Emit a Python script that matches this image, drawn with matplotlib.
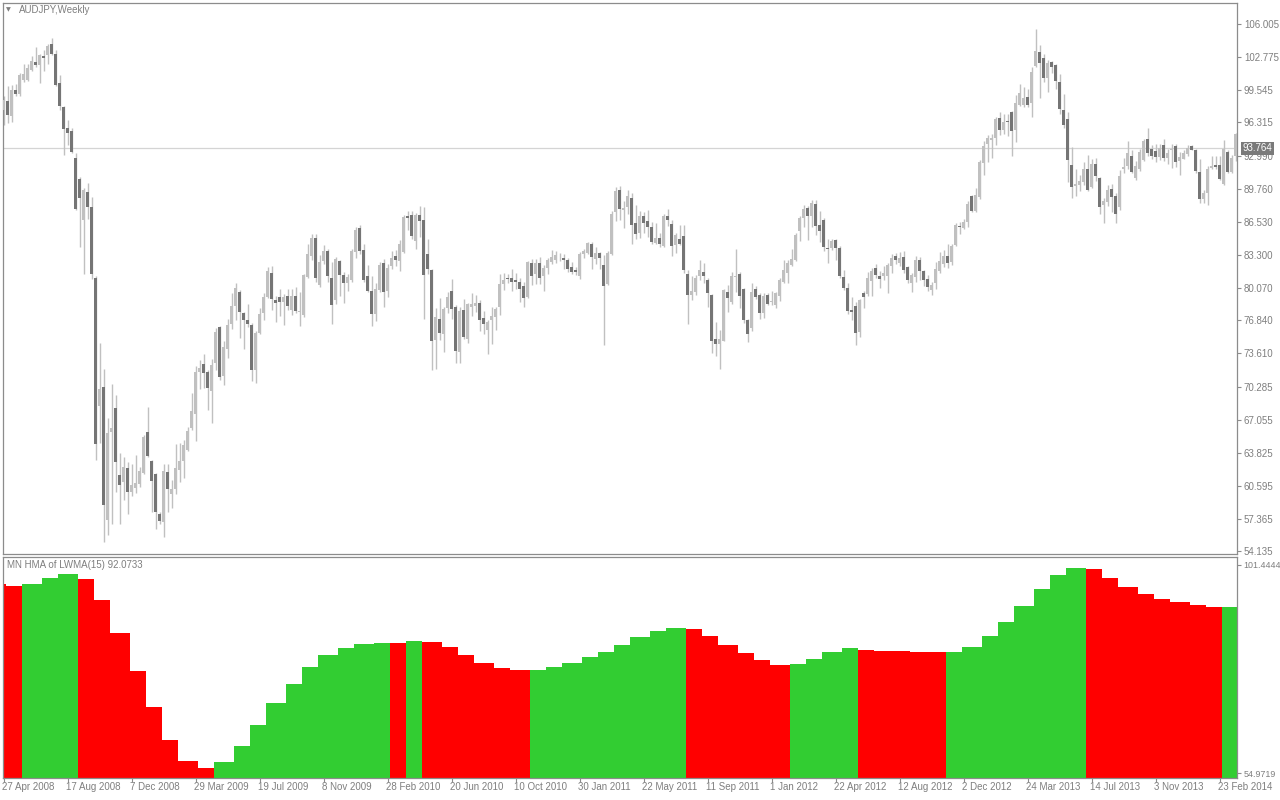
import matplotlib
matplotlib.use('Agg')
import matplotlib.pyplot as plt
import numpy as np
import pandas as pd

plt.rcParams['font.family'] = ['Liberation Sans', 'DejaVu Sans']

# ---------------- data ----------------
symbol_title = "AUDJPY,Weekly"
first_week = "2008-04-27"
bid_price = 93.764

opens = [97.55, 98.42, 96.96, 99.54, 99.12, 100.51, 100.51, 101.49, 102.25, 101.97,
         102.88, 102.95, 104.06, 103.05, 100.16, 97.83, 95.74, 95.46, 92.78, 90.73,
         86.69, 89.48, 87.98, 81.02, 68.42, 70.30, 57.25, 65.88, 68.22, 61.64,
         60.94, 62.33, 59.97, 60.32, 60.73, 61.88, 65.88, 63.03, 61.78, 57.81,
         57.01, 61.95, 59.76, 60.25, 62.13, 63.03, 64.07, 66.23, 67.62, 71.80,
         72.57, 71.80, 69.89, 72.67, 76.15, 71.35, 74.06, 76.50, 78.24, 79.63,
         77.54, 76.88, 76.43, 71.97, 75.63, 77.54, 79.18, 81.54, 78.86, 79.18,
         78.69, 79.28, 77.89, 79.28, 77.72, 77.37, 81.13, 83.21, 84.95, 80.33,
         82.66, 83.63, 81.02, 78.83, 82.66, 81.30, 80.50, 80.85, 83.56, 85.90,
         83.77, 81.20, 79.73, 77.44, 79.80, 82.48, 79.73, 82.17, 83.18, 82.69,
         83.56, 87.11, 87.25, 84.68, 87.25, 86.69, 83.35, 81.82, 74.93, 77.02,
         75.52, 78.06, 79.73, 78.17, 73.78, 77.89, 75.04, 78.20, 78.24, 78.58,
         77.09, 75.91, 76.92, 77.19, 78.13, 80.43, 81.02, 81.02, 80.85, 80.64,
         80.22, 79.11, 82.52, 81.37, 82.48, 81.20, 82.00, 82.59, 82.83, 83.04,
         83.00, 82.76, 82.07, 81.79, 81.20, 83.35, 83.46, 84.40, 82.87, 83.46,
         82.31, 80.43, 83.35, 87.46, 89.65, 87.74, 87.98, 88.85, 86.42, 85.44,
         87.11, 86.59, 86.00, 84.43, 84.95, 84.15, 87.11, 86.31, 84.22, 84.85,
         85.13, 81.44, 79.39, 79.63, 81.20, 81.61, 80.85, 79.39, 75.00, 74.48,
         74.86, 79.63, 78.69, 81.10, 81.44, 79.98, 76.92, 76.08, 79.98, 79.39,
         77.61, 79.39, 78.69, 78.34, 79.28, 80.60, 81.54, 82.31, 82.83, 85.65,
         86.94, 87.88, 87.11, 88.33, 86.21, 86.76, 83.98, 83.98, 84.75, 83.98,
         81.13, 80.08, 77.86, 78.24, 75.73, 79.56, 79.46, 80.74, 82.00, 81.20,
         81.20, 81.20, 82.17, 83.21, 82.52, 83.07, 82.07, 80.50, 81.13, 82.76,
         81.68, 80.92, 79.87, 80.50, 81.68, 82.42, 83.18, 82.59, 84.26, 86.14,
         85.90, 86.52, 89.03, 87.63, 88.96, 92.33, 94.14, 94.59, 94.77, 96.75,
         95.60, 96.44, 97.38, 95.53, 98.00, 98.00, 98.77, 98.25, 101.83, 103.22,
         102.63, 100.68, 102.25, 101.97, 100.27, 97.55, 96.65, 92.12, 90.07, 90.17,
         90.49, 91.74, 90.00, 92.23, 90.84, 88.23, 88.50, 89.79, 89.10, 87.98,
         91.74, 91.98, 93.03, 90.87, 91.70, 92.61, 94.66, 93.72, 93.48, 92.92,
         94.07, 92.86, 93.55, 94.00, 92.51, 92.75, 93.20, 94.00, 93.62, 91.39,
         88.78, 89.37, 91.81, 92.16, 92.09, 90.24, 93.38, 91.46, 93.03]

highs = [98.94, 99.92, 99.99, 100.06, 101.21, 102.08, 102.08, 102.84, 103.71, 103.05,
         103.47, 103.99, 104.58, 103.47, 100.96, 97.90, 96.58, 95.74, 93.31, 90.94,
         89.90, 90.35, 88.96, 81.20, 74.58, 72.05, 67.28, 70.58, 69.54, 63.80,
         63.45, 62.93, 62.75, 63.62, 62.40, 65.61, 68.32, 63.10, 61.88, 58.05,
         62.75, 62.75, 61.19, 64.66, 64.84, 65.12, 66.41, 69.71, 72.32, 72.91,
         73.54, 71.97, 73.02, 76.05, 76.32, 74.86, 77.02, 79.53, 80.50, 79.80,
         77.72, 78.48, 76.60, 75.80, 78.06, 79.53, 82.07, 82.17, 79.28, 79.98,
         79.46, 79.98, 79.98, 80.15, 79.63, 81.37, 84.33, 85.37, 85.37, 83.28,
         84.26, 83.87, 82.59, 83.11, 82.76, 81.61, 81.37, 83.91, 86.07, 86.24,
         84.40, 82.31, 81.20, 80.50, 82.59, 82.87, 82.42, 83.63, 83.81, 84.75,
         87.18, 87.63, 87.56, 87.39, 88.09, 87.98, 84.85, 81.89, 78.06, 79.04,
         78.13, 79.63, 80.92, 78.34, 78.13, 78.93, 78.58, 79.53, 79.39, 78.83,
         77.79, 76.85, 78.13, 78.17, 81.44, 81.54, 81.44, 81.89, 81.47, 80.99,
         80.64, 82.69, 82.87, 82.87, 83.07, 82.31, 82.94, 83.81, 83.63, 83.46,
         83.35, 82.94, 82.59, 82.13, 83.56, 83.91, 84.57, 84.57, 84.05, 83.56,
         83.28, 83.63, 87.63, 89.97, 90.07, 88.61, 89.65, 89.37, 88.23, 87.56,
         87.46, 87.70, 86.49, 86.42, 85.44, 87.28, 87.81, 86.69, 85.44, 86.21,
         86.21, 81.79, 81.20, 81.27, 82.83, 82.48, 81.02, 79.46, 76.67, 75.91,
         79.98, 80.33, 81.61, 83.87, 81.61, 80.08, 77.02, 80.50, 80.22, 79.53,
         79.53, 79.53, 79.73, 79.63, 81.02, 82.83, 82.76, 83.87, 85.48, 87.11,
         88.16, 88.05, 88.68, 88.68, 87.56, 86.87, 84.85, 84.82, 84.82, 84.15,
         81.79, 80.50, 79.18, 78.69, 78.93, 79.73, 81.61, 81.96, 82.42, 81.72,
         82.17, 82.48, 83.35, 83.46, 83.56, 83.63, 82.24, 81.54, 83.21, 83.11,
         81.82, 81.27, 80.67, 82.59, 83.56, 83.81, 84.33, 84.33, 86.42, 86.49,
         86.83, 88.57, 89.13, 89.90, 92.58, 94.52, 95.12, 95.19, 96.86, 97.38,
         97.10, 97.13, 97.48, 99.01, 100.09, 99.75, 99.57, 101.80, 105.49, 103.89,
         103.01, 102.42, 102.35, 102.01, 101.03, 99.12, 97.38, 93.90, 91.70, 91.12,
         92.40, 93.13, 92.68, 92.86, 90.94, 88.85, 90.17, 90.24, 89.37, 91.64,
         92.86, 94.49, 93.55, 92.51, 93.72, 94.70, 95.74, 94.07, 94.14, 94.14,
         94.70, 93.72, 94.14, 94.14, 93.44, 93.62, 94.07, 94.07, 93.72, 92.68,
         89.62, 91.98, 93.03, 93.03, 93.03, 94.59, 93.55, 93.13, 95.29]

lows = [96.09, 96.23, 96.33, 98.94, 98.94, 100.27, 100.41, 101.38, 101.73, 100.23,
        101.38, 102.01, 102.95, 99.90, 97.55, 93.13, 94.07, 93.31, 87.70, 84.08,
        81.44, 86.83, 80.92, 63.10, 64.84, 55.10, 55.79, 56.84, 59.97, 56.84,
        59.20, 57.81, 59.62, 59.90, 60.49, 61.71, 63.45, 58.05, 56.31, 56.84,
        55.55, 58.05, 58.40, 59.80, 60.94, 61.36, 63.97, 66.06, 65.01, 70.06,
        70.23, 68.04, 66.76, 71.97, 71.03, 70.48, 73.12, 75.98, 76.85, 75.11,
        74.06, 76.15, 70.93, 70.69, 75.46, 76.85, 79.04, 77.89, 76.67, 77.26,
        76.39, 77.89, 77.37, 77.54, 76.32, 77.19, 81.02, 82.76, 80.67, 80.15,
        82.42, 80.67, 76.50, 78.48, 79.28, 78.58, 79.73, 80.67, 83.00, 83.39,
        80.67, 79.63, 76.25, 76.78, 79.63, 78.17, 79.18, 81.89, 82.24, 81.72,
        83.46, 85.72, 84.85, 83.91, 85.02, 77.02, 81.37, 71.97, 72.08, 74.93,
        73.71, 77.54, 77.02, 72.67, 72.67, 75.04, 74.65, 77.30, 77.72, 75.80,
        75.46, 73.54, 74.51, 75.91, 77.37, 79.87, 80.50, 79.73, 79.98, 78.69,
        78.20, 79.00, 80.33, 80.40, 80.43, 79.73, 81.37, 82.42, 82.48, 82.66,
        81.89, 81.61, 81.44, 81.27, 80.92, 83.00, 83.35, 81.89, 82.42, 81.89,
        74.41, 80.33, 83.28, 86.59, 86.76, 85.96, 87.28, 84.33, 84.85, 84.95,
        85.44, 85.09, 84.33, 84.33, 84.08, 84.08, 86.17, 83.21, 83.46, 84.26,
        81.47, 76.50, 78.83, 79.39, 80.85, 80.50, 78.13, 73.65, 73.37, 72.08,
        74.83, 77.65, 78.41, 79.63, 78.06, 76.60, 74.76, 75.80, 78.93, 77.02,
        77.12, 78.34, 78.34, 78.06, 78.76, 80.50, 80.50, 82.17, 82.66, 84.68,
        86.00, 84.78, 86.07, 85.20, 84.57, 83.70, 82.52, 83.81, 82.76, 81.02,
        79.80, 77.44, 76.85, 74.41, 75.21, 78.06, 79.28, 79.28, 81.02, 80.05,
        80.78, 79.53, 81.54, 82.42, 82.17, 81.54, 80.50, 79.63, 80.67, 80.85,
        80.22, 79.73, 79.39, 79.98, 81.54, 82.07, 81.96, 82.31, 84.15, 85.30,
        85.79, 86.07, 87.53, 87.53, 88.78, 91.18, 92.44, 92.86, 94.07, 95.12,
        95.19, 94.94, 92.96, 94.42, 97.90, 97.83, 97.80, 96.86, 101.73, 98.70,
        100.27, 99.29, 101.21, 99.64, 97.13, 95.81, 90.42, 88.85, 89.10, 89.55,
        90.17, 89.55, 89.90, 90.59, 87.28, 86.42, 88.09, 87.53, 86.42, 87.70,
        91.29, 91.70, 91.29, 90.66, 91.56, 92.51, 93.03, 92.68, 92.40, 92.61,
        92.51, 92.26, 91.81, 91.88, 91.12, 92.68, 93.03, 93.55, 91.29, 88.43,
        88.43, 88.23, 91.70, 91.70, 90.66, 90.14, 91.29, 91.29, 92.51]

closes = [98.50, 97.03, 99.54, 99.12, 100.93, 101.10, 101.66, 102.35, 101.97, 102.95,
          102.67, 103.82, 103.05, 99.99, 97.90, 95.71, 95.29, 93.38, 87.81, 88.92,
          89.65, 87.98, 81.44, 64.74, 70.13, 58.68, 65.81, 66.30, 62.93, 60.66,
          62.47, 59.97, 60.66, 60.84, 62.06, 65.36, 63.52, 61.08, 57.98, 57.11,
          62.06, 60.25, 60.25, 62.33, 62.99, 64.59, 65.95, 67.97, 71.80, 72.15,
          71.63, 70.23, 72.50, 75.73, 71.28, 74.24, 76.43, 78.24, 80.05, 77.65,
          76.92, 76.50, 71.97, 75.63, 77.51, 79.18, 81.72, 78.93, 78.58, 78.69,
          79.18, 78.31, 79.28, 77.79, 77.79, 81.27, 83.39, 84.95, 81.02, 82.59,
          83.63, 81.20, 78.34, 82.87, 81.34, 80.50, 81.09, 83.70, 85.72, 83.63,
          80.85, 79.73, 77.47, 79.91, 82.31, 79.63, 82.00, 83.00, 82.76, 84.40,
          87.04, 86.94, 85.13, 87.25, 86.66, 81.30, 81.89, 74.83, 77.19, 75.63,
          77.99, 79.18, 77.99, 73.82, 77.79, 75.21, 78.41, 78.48, 78.58, 76.92,
          76.50, 76.67, 77.26, 77.96, 80.43, 80.85, 80.92, 80.60, 80.60, 79.98,
          79.04, 82.59, 81.20, 82.52, 81.02, 82.00, 82.76, 83.11, 83.28, 83.11,
          82.76, 81.89, 81.65, 81.61, 83.35, 83.70, 84.43, 83.11, 83.46, 83.00,
          80.22, 83.46, 87.28, 89.55, 87.81, 87.88, 89.03, 86.24, 85.37, 87.11,
          86.42, 86.07, 84.57, 84.95, 84.40, 87.11, 86.69, 84.19, 85.27, 84.33,
          81.82, 79.39, 79.73, 81.02, 81.79, 81.20, 79.53, 74.83, 74.48, 75.00,
          79.87, 79.04, 81.20, 81.20, 79.28, 76.92, 75.46, 79.63, 79.18, 77.61,
          79.28, 78.41, 78.76, 79.53, 80.85, 81.79, 82.52, 82.87, 85.27, 86.94,
          87.81, 87.11, 88.40, 86.14, 85.65, 84.08, 83.91, 84.61, 83.98, 81.20,
          80.08, 77.79, 77.72, 75.63, 78.83, 79.18, 81.02, 81.68, 81.34, 80.95,
          81.54, 82.31, 83.00, 82.76, 83.00, 81.82, 80.85, 81.30, 82.76, 81.72,
          80.85, 80.15, 80.33, 81.89, 82.66, 83.18, 82.52, 84.15, 86.21, 86.00,
          86.52, 88.33, 87.63, 89.20, 92.40, 94.00, 94.77, 94.77, 96.65, 95.60,
          96.33, 96.37, 95.46, 98.25, 99.19, 98.70, 98.00, 101.28, 103.29, 102.18,
          100.68, 102.15, 101.80, 100.41, 97.66, 96.09, 92.61, 90.00, 90.24, 90.52,
          91.74, 89.65, 92.26, 91.04, 87.98, 88.57, 89.65, 88.96, 87.28, 91.04,
          91.91, 93.31, 91.46, 91.98, 93.44, 94.52, 93.31, 93.03, 92.92, 93.79,
          92.86, 93.31, 93.72, 92.44, 92.92, 93.31, 93.79, 93.62, 91.53, 88.78,
          89.37, 91.74, 91.98, 91.91, 90.77, 93.72, 91.39, 92.86, 95.19]

price_ticks = [106.005, 102.775, 99.545, 96.315, 92.990, 89.760, 86.530, 83.300,
               80.070, 76.840, 73.610, 70.285, 67.055, 63.825, 60.595, 57.365, 54.135]
price_tick_labels = ["106.005", "102.775", "99.545", "96.315", "92.990", "89.760",
                     "86.530", "83.300", "80.070", "76.840", "73.610", "70.285",
                     "67.055", "63.825", "60.595", "57.365", "54.135"]

# monthly HMA of LWMA(15), April 2008 .. March 2014
hma_title = "MN HMA of LWMA(15) 92.0733"
hma_first_month = "2008-04"
hma_values = [97.13, 96.75, 97.20, 98.54, 99.43, 98.32, 93.63, 86.25, 77.76,
              69.72, 62.42, 57.66, 56.09, 57.43, 61.01, 65.70, 70.69, 74.86, 78.66, 81.34, 82.90,
              83.87, 84.09, 83.94, 84.47, 84.24, 83.12, 81.34, 79.55, 78.43, 77.91, 78.06, 78.66,
              79.55, 80.89, 82.01, 83.57, 85.36, 86.70, 87.37, 87.15, 85.58, 83.57, 81.79, 80.22,
              79.10, 79.33, 80.44, 82.01, 82.90, 82.46, 82.31, 82.23, 82.08, 81.93, 82.08, 83.12,
              85.58, 88.71, 92.29, 96.08, 99.21, 100.70, 100.48, 98.47, 96.46, 94.97, 93.85, 93.10,
              92.43, 91.99, 92.07]
hma_scale = [54.9719, 101.4444]
hma_scale_labels = ["54.9719", "101.4444"]

date_tick_labels = ["27 Apr 2008", "17 Aug 2008", "7 Dec 2008", "29 Mar 2009", "19 Jul 2009",
                    "8 Nov 2009", "28 Feb 2010", "20 Jun 2010", "10 Oct 2010", "30 Jan 2011",
                    "22 May 2011", "11 Sep 2011", "1 Jan 2012", "22 Apr 2012", "12 Aug 2012",
                    "2 Dec 2012", "24 Mar 2013", "14 Jul 2013", "3 Nov 2013", "23 Feb 2014"]

# ---------------- styling ----------------
W, H = 1280, 800
BULL = '#c0c0c0'
BEAR = '#757575'
WICK = '#c0c0c0'
FRAME = '#8c8c8c'
TXT = '#7f7f7f'
FS = 7

o = np.array(opens); h = np.array(highs); l = np.array(lows); c = np.array(closes)
n = len(c)
x = np.arange(n)
dates = pd.date_range(first_week, periods=n, freq='7D')
start = pd.Period(hma_first_month, freq='M')
month_idx = np.array([(pd.Period(d, freq='M') - start).n for d in dates])
hv = np.array(hma_values)
month_up = np.r_[False, np.diff(hv) > 0]
weekly_hma = hv[month_idx]
weekly_col = np.where(month_up[month_idx], '#32cd32', '#ff0000')

fig = plt.figure(figsize=(W / 100, H / 100), dpi=100)
fig.patch.set_facecolor('white')

ax1 = fig.add_axes([3 / W, 1 - 554 / H, 1234 / W, 551 / H])
ax2 = fig.add_axes([3 / W, 1 - 778 / H, 1234 / W, 221 / H], sharex=ax1)

# candles
bull = c >= o
bot = np.minimum(o, c)
hgt = np.maximum(np.abs(c - o), 0.07)
ax1.vlines(x, l, h, color=WICK, lw=1.0, zorder=2)
ax1.bar(x[bull], hgt[bull], bottom=bot[bull], width=0.78, color=BULL, linewidth=0, zorder=3)
ax1.bar(x[~bull], hgt[~bull], bottom=bot[~bull], width=0.78, color=BEAR, linewidth=0, zorder=3)
ax1.axhline(bid_price, color='#d4d4d4', lw=0.9, zorder=1)

ax1.set_xlim(-0.125, 308.375)
ax1.set_ylim(53.88, 108.05)
ax1.yaxis.tick_right()
ax1.set_yticks(price_ticks)
ax1.set_yticklabels(price_tick_labels)
ax1.tick_params(axis='y', direction='out', length=3, width=0.8, colors=FRAME,
                labelcolor=TXT, labelsize=FS, pad=2)
ax1.tick_params(axis='x', bottom=False, labelbottom=False)
for s in ax1.spines.values():
    s.set_color(FRAME)
    s.set_linewidth(0.9)

ax1.annotate(f"{bid_price:.3f}", xy=(1.0, bid_price), xycoords=('axes fraction', 'data'),
             xytext=(4, 0), textcoords='offset points', ha='left', va='center',
             fontsize=FS, color='white', zorder=10, annotation_clip=False,
             bbox=dict(boxstyle='square,pad=0.15', fc='#7a7a7a', ec='none'))

fig.text(8 / W, 1 - 10 / H, '\u25BC', fontsize=4.5, color=TXT, ha='center', va='center',
         family=['DejaVu Sans'])
fig.text(19 / W, 1 - 10 / H, symbol_title, fontsize=FS, color=TXT, ha='left', va='center')

# HMA histogram
ax2.bar(x, weekly_hma, bottom=0, width=1.0, color=weekly_col, linewidth=0, antialiased=False)
ax2.set_ylim(53.855, 103.23)
ax2.yaxis.tick_right()
ax2.set_yticks(hma_scale)
ax2.set_yticklabels(hma_scale_labels)
ax2.tick_params(axis='y', direction='out', length=3, width=0.8, colors=FRAME,
                labelcolor=TXT, labelsize=6.4, pad=1.5)
tick_pos = np.arange(len(date_tick_labels)) * 16
ax2.set_xticks(tick_pos)
ax2.set_xticklabels([])
ax2.tick_params(axis='x', direction='out', length=3, width=0.8, colors=FRAME)
for s in ax2.spines.values():
    s.set_color(FRAME)
    s.set_linewidth(0.9)
for p, lab in zip(tick_pos, date_tick_labels):
    ax2.annotate(lab, xy=(p, 0), xycoords=('data', 'axes fraction'), xytext=(-1, -3),
                 textcoords='offset points', ha='left', va='top', fontsize=FS, color=TXT,
                 annotation_clip=False)
ax2.text(4 / 1234, 1 - 8 / 221, hma_title, transform=ax2.transAxes, fontsize=FS, color=TXT,
         ha='left', va='center', zorder=10)

fig.savefig('out.png', dpi=100, facecolor='white')
